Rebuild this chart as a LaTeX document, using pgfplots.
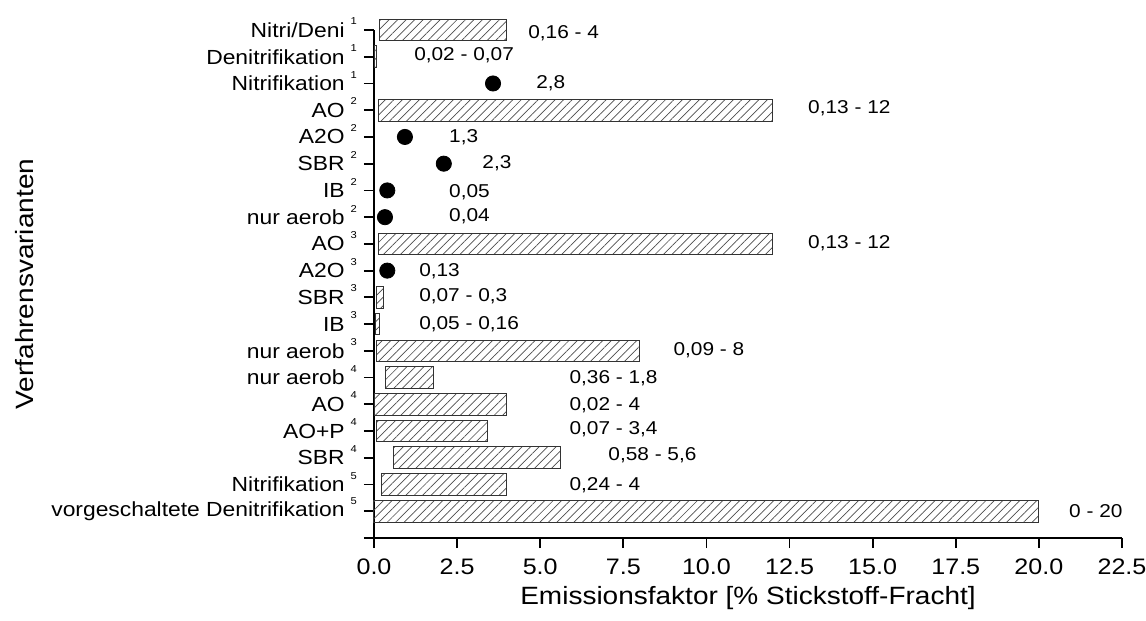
\documentclass[border=0pt]{standalone}
\usepackage{fontspec}
\setmainfont{Liberation Sans}[FakeStretch=1.12]
\usepackage{pgfplots}
\usepackage{pgfplotstable}
\pgfplotsset{compat=1.18}
\usetikzlibrary{patterns.meta}

\newcommand\fn[1]{\hspace{3pt}\raisebox{6.2pt}[0pt][0pt]{\fontsize{5}{6}\selectfont #1}}

% ranges (lo - hi), row 1 = bottom
\pgfplotstableread{
y lo hi
1 0 20
2 0.24 4
3 0.58 5.6
4 0.07 3.4
5 0.02 4
6 0.36 1.8
7 0.09 8
8 0.05 0.16
9 0.07 0.3
11 0.13 12
16 0.13 12
18 0.02 0.07
19 0.16 4
}\bardata

% single values, drawn as dots
\pgfplotstableread{
y x
10 0.40
12 0.33
13 0.40
14 2.10
15 0.93
17 3.58
}\pointdata

% value labels (left edge of text)
\pgfplotstableread[col sep=semicolon]{
x;y;t
4.63;18.89;0,16 - 4
1.2;18.06;0,02 - 0,07
4.87;17.02;2,8
13.05;16.08;0,13 - 12
2.25;15.0;1,3
3.25;14.03;2,3
2.25;12.94;0,05
2.25;12.04;0,04
13.05;11.03;0,13 - 12
1.35;9.99;0,13
1.35;9.05;0,07 - 0,3
1.35;8.0;0,05 - 0,16
9.0;7.03;0,09 - 8
5.87;5.98;0,36 - 1,8
5.87;4.97;0,02 - 4
5.87;4.08;0,07 - 3,4
7.04;3.1;0,58 - 5,6
5.87;1.98;0,24 - 4
20.9;1.0;0 - 20
}\labeldata

\pgfplotsset{
  base/.style={scale only axis, width=374pt, height=254pt,
    xmin=0, xmax=22.5, ymin=0, ymax=19, clip=false},
}

\begin{document}
\begin{tikzpicture}
\begin{axis}[base,
    xbar stacked, bar width=0.81,
    axis x line*=bottom, axis y line*=left,
    axis line style={line width=0.9pt},
    tick style={line width=0.9pt, black},
    tick align=outside, major tick length=5pt,
    xtick={0,2.5,5,7.5,10,12.5,15,17.5,20,22.5},
    xticklabel style={font=\fontsize{11.2}{13}\selectfont, yshift=-2pt,
      /pgf/number format/.cd, fixed, fixed zerofill, precision=1, assume math mode=true},
    ytick={0,...,19},
    yticklabels={{}, vorgeschaltete Denitrifikation\fn{5}, Nitrifikation\fn{5},
      SBR\fn{4}, AO+P\fn{4}, AO\fn{4}, nur aerob\fn{4}, nur aerob\fn{3},
      IB\fn{3}, SBR\fn{3}, A2O\fn{3}, AO\fn{3}, nur aerob\fn{2}, IB\fn{2},
      SBR\fn{2}, A2O\fn{2}, AO\fn{2}, Nitrifikation\fn{1},
      Denitrifikation\fn{1}, Nitri/Deni\fn{1}},
    yticklabel style={font=\fontsize{10.2}{12}\selectfont},
    xlabel={Emissionsfaktor [\% Stickstoff-Fracht]},
    ylabel={Verfahrensvarianten},
    label style={font=\fontsize{12.5}{14}\selectfont},
    xlabel style={at={(axis description cs:0.5,-0.118)}, anchor=center},
    ylabel style={at={(axis description cs:-0.467,0.5)}, anchor=center},
]
\addplot[draw=none, fill=none] table[x=lo, y=y] {\bardata};
\addplot[draw=black!80, line width=0.5pt,
    pattern={Lines[angle=45, distance=3pt, line width=0.35pt]}, pattern color=black!70]
  table[x expr=\thisrow{hi}-\thisrow{lo}, y=y] {\bardata};
\end{axis}

\begin{axis}[base, hide axis]
\addplot[only marks, mark=*, mark size=3.8pt, black] table[x=x, y=y] {\pointdata};
\addplot[only marks, mark=none, nodes near coords, point meta=explicit symbolic,
    nodes near coords style={anchor=west, inner sep=0pt, font=\fontsize{9.3}{11}\selectfont}]
  table[x=x, y=y, meta=t] {\labeldata};
\end{axis}

\pgfresetboundingbox
\path (-187pt,-41.5pt) rectangle (386pt,269pt);
\end{tikzpicture}
\end{document}
